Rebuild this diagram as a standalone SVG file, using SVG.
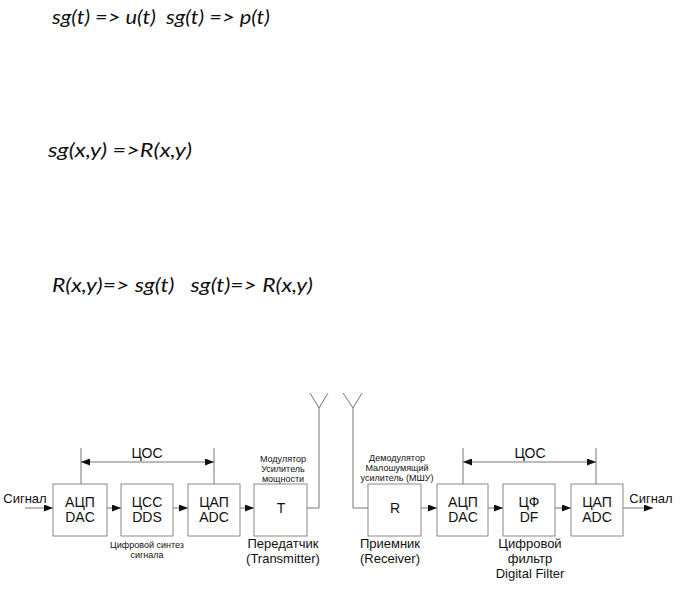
<svg xmlns="http://www.w3.org/2000/svg" width="680" height="589" viewBox="0 0 680 589">
<style>
.f{font-family:Lato,"Open Sans","Noto Sans",sans-serif;font-style:italic;font-size:20px;fill:#111;white-space:pre}
.b{fill:#fff;stroke:#888;stroke-width:1}
.t{font-family:"Liberation Sans",Arial,sans-serif;fill:#111;text-anchor:middle}
.l14{font-size:14px}
.l13{font-size:13px}
.l9{font-size:9px}
.w{stroke:#777;stroke-width:1;fill:none}
</style>
<defs>
<marker id="ah" markerWidth="9" markerHeight="7" refX="9" refY="3.5" orient="auto" markerUnits="userSpaceOnUse">
<path d="M0,0 L9,3.5 L0,7 Z" fill="#111"/>
</marker>
<marker id="as" markerWidth="9" markerHeight="7" refX="0" refY="3.5" orient="auto" markerUnits="userSpaceOnUse">
<path d="M9,0 L0,3.5 L9,7 Z" fill="#111"/>
</marker>
</defs>
<rect width="680" height="589" fill="#fff"/>
<g id="formulas">
<text class="f" x="52" y="24" xml:space="preserve" textLength="218" lengthAdjust="spacingAndGlyphs">sg(t) =&gt; u(t)  sg(t) =&gt; p(t)</text>
<text class="f" x="48" y="157" xml:space="preserve" textLength="144" lengthAdjust="spacingAndGlyphs">sg(x,y) =&gt;R(x,y)</text>
<text class="f" x="52" y="292" xml:space="preserve" textLength="261" lengthAdjust="spacingAndGlyphs">R(x,y)=&gt; sg(t)   sg(t)=&gt; R(x,y)</text>
</g>
<g id="connectors">
<line class="w" x1="25" y1="508" x2="53" y2="508" marker-end="url(#ah)"/>
<line class="w" x1="107" y1="508" x2="121" y2="508" marker-end="url(#ah)"/>
<line class="w" x1="173" y1="508" x2="188" y2="508" marker-end="url(#ah)"/>
<line class="w" x1="240" y1="508" x2="254" y2="508" marker-end="url(#ah)"/>
<line class="w" x1="81" y1="448" x2="81" y2="484"/>
<line class="w" x1="214" y1="448" x2="214" y2="484"/>
<line class="w" x1="81" y1="462" x2="214" y2="462" marker-start="url(#as)" marker-end="url(#ah)"/>
<polyline class="w" points="307,508 319,508 319,408"/>
<polyline class="w" points="310,393 319,408 328,393"/>
<polyline class="w" points="343,393 353,408 362,393"/>
<polyline class="w" points="353,408 353,508 368,508"/>
<line class="w" x1="421" y1="508" x2="437" y2="508" marker-end="url(#ah)"/>
<line class="w" x1="488" y1="508" x2="503" y2="508" marker-end="url(#ah)"/>
<line class="w" x1="555" y1="508" x2="571" y2="508" marker-end="url(#ah)"/>
<line class="w" x1="623" y1="508" x2="653" y2="508" marker-end="url(#ah)"/>
<line class="w" x1="463" y1="448" x2="463" y2="484"/>
<line class="w" x1="596" y1="448" x2="596" y2="484"/>
<line class="w" x1="463" y1="462" x2="596" y2="462" marker-start="url(#as)" marker-end="url(#ah)"/>
</g>
<g id="labels">
<text class="t l14" x="147" y="458">ЦОС</text>
<text class="t l14" x="530" y="458">ЦОС</text>
<text class="t l13" x="25" y="503">Сигнал</text>
<text class="t l13" x="651" y="503">Сигнал</text>
</g>
<g id="adc1">
<rect class="b" x="53" y="484" width="54" height="52"/>
<text class="t l14" x="80" y="507">АЦП</text>
<text class="t l14" x="80" y="522">DAC</text>
</g>
<g id="dds">
<rect class="b" x="121" y="484" width="52" height="52"/>
<text class="t l14" x="147" y="507">ЦСС</text>
<text class="t l14" x="147" y="522">DDS</text>
<text class="t l9" x="147" y="548">Цифровой синтез</text>
<text class="t l9" x="147" y="558">сигнала</text>
</g>
<g id="dac1">
<rect class="b" x="188" y="484" width="52" height="52"/>
<text class="t l14" x="214" y="507">ЦАП</text>
<text class="t l14" x="214" y="522">ADC</text>
</g>
<g id="tx">
<rect class="b" x="254" y="484" width="53" height="52"/>
<text class="t l14" x="281" y="513">T</text>
<text class="t l9" x="283" y="462">Модулятор</text>
<text class="t l9" x="283" y="472">Усилитель</text>
<text class="t l9" x="283" y="482">мощности</text>
<text class="t l13" x="283" y="548">Передатчик</text>
<text class="t l13" x="283" y="563">(Transmitter)</text>
</g>
<g id="rx">
<rect class="b" x="368" y="484" width="53" height="52"/>
<text class="t l14" x="395" y="513">R</text>
<text class="t l9" x="397" y="461">Демодулятор</text>
<text class="t l9" x="397" y="471">Малошумящий</text>
<text class="t l9" x="397" y="481">усилитель (МШУ)</text>
<text class="t l13" x="390" y="548">Приемник</text>
<text class="t l13" x="390" y="563">(Receiver)</text>
</g>
<g id="adc2">
<rect class="b" x="437" y="484" width="51" height="52"/>
<text class="t l14" x="463" y="507">АЦП</text>
<text class="t l14" x="463" y="522">DAC</text>
</g>
<g id="df">
<rect class="b" x="503" y="484" width="52" height="52"/>
<text class="t l14" x="529" y="507">ЦФ</text>
<text class="t l14" x="529" y="522">DF</text>
<text class="t l13" x="530" y="548">Цифровой</text>
<text class="t l13" x="530" y="563">фильтр</text>
<text class="t l13" x="530" y="578">Digital Filter</text>
</g>
<g id="dac2">
<rect class="b" x="571" y="484" width="52" height="52"/>
<text class="t l14" x="597" y="507">ЦАП</text>
<text class="t l14" x="597" y="522">ADC</text>
</g>
</svg>
